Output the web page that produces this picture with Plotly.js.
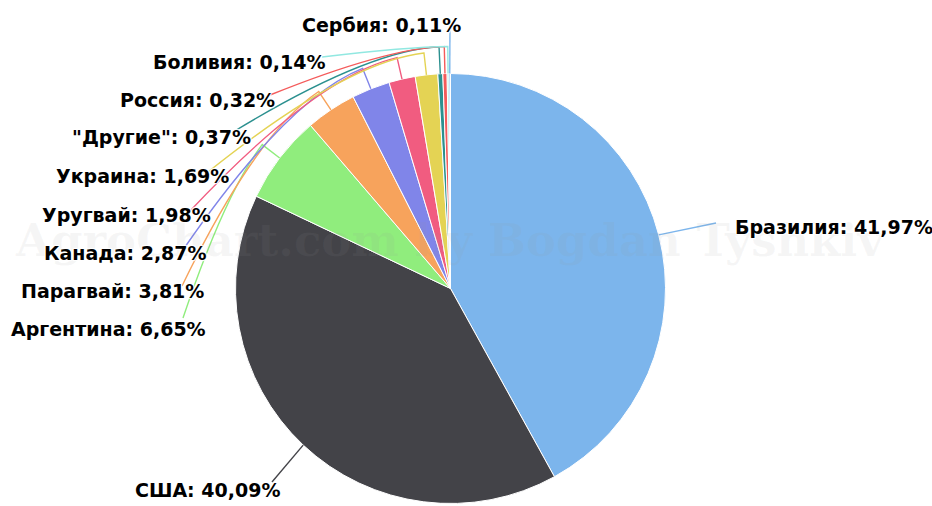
<!DOCTYPE html>
<html>
<head>
<meta charset="utf-8">
<script src="https://cdn.plot.ly/plotly-3.0.1.min.js"></script>
<style>html,body{margin:0;padding:0;background:#fff}#chart{width:932px;height:506px}</style>
</head>
<body>
<div id="chart"></div>
<script>
// ---- data ----
const countries = ["Бразилия", "США", "Аргентина", "Парагвай", "Канада", "Уругвай", "Украина", "\"Другие\"", "Россия", "Боливия", "Сербия"];
const shares = [41.97, 40.09, 6.65, 3.81, 2.87, 1.98, 1.69, 0.37, 0.32, 0.14, 0.11];
const sliceColors = ["#7cb5ec", "#434348", "#90ed7d", "#f7a35c", "#8085e9", "#f15c80", "#e4d354", "#2b908f", "#f45b5b", "#91e8e1", "#7cb5ec"];

// ---- layout positions for labels (pixels) ----
// [text x, text y(center), xanchor, connector anchor x, connector anchor y, connector style]
const labelPos = [
  [733, 227, "left", 716, 223, "straight"],
  [133, 490, "left", 272, 482, "straight"],
  [208, 329, "right", 183, 318, "curve"],
  [206, 291, "right", 182, 286, "curve"],
  [209, 253, "right", 185, 247, "curve"],
  [213, 215, "right", 190, 211, "curve"],
  [231, 176, "right", 208, 172, "curve"],
  [253, 137, "right", 233, 132, "curve"],
  [277, 100, "right", 270, 95, "curve"],
  [327, 62, "right", 322, 57, "curve"],
  [300, 25, "left", 450, 20, "vertical"]
];

const W = 932, H = 506, CX = 450.5, CY = 288.5, R = 215;
const px = x => x / W;
const py = y => (H - y) / H;
const fmt = v => v.toFixed(2).replace(".", ",");

function pt(theta, r) {
  const a = theta * Math.PI / 180;
  return [CX + r * Math.sin(a), CY - r * Math.cos(a)];
}

const total = shares.reduce((a, b) => a + b, 0);
let cum = 0;
const shapes = [];
const annotations = [];

shares.forEach((v, i) => {
  const mid = (cum + v / 2) / total * 360;
  cum += v;
  const [tx, ty, xa, ax, ay, style] = labelPos[i];
  const edge = pt(mid, R);
  let path;
  if (style === "straight" || style === "vertical") {
    path = `M ${px(ax)} ${py(ay)} L ${px(edge[0])} ${py(edge[1])}`;
  } else {
    const off = mid > 355 ? 27 : 22;
    const bp = pt(mid, R + off);
    const a = mid * Math.PI / 180;
    const tan = [-Math.cos(a), -Math.sin(a)];
    const d = Math.hypot(ax - bp[0], ay - bp[1]);
    const k = 0.32 * d;
    const c = [bp[0] + k * tan[0], bp[1] + k * tan[1]];
    path = `M ${px(ax)} ${py(ay)} Q ${px(c[0])} ${py(c[1])} ${px(bp[0])} ${py(bp[1])} L ${px(edge[0])} ${py(edge[1])}`;
  }
  shapes.push({
    type: "path", xref: "paper", yref: "paper", path: path,
    line: { color: sliceColors[i], width: 1.4 }, layer: "above"
  });
  annotations.push({
    xref: "paper", yref: "paper", x: px(tx), y: py(ty),
    xanchor: xa, yanchor: "middle", showarrow: false,
    text: `${countries[i]}: ${fmt(v)}%`,
    font: {
      family: "DejaVu Sans", size: 19, weight: "bold", color: "#000000",
      shadow: "1px 1px 1px #fff, -1px -1px 1px #fff, 1px -1px 1px #fff, -1px 1px 1px #fff"
    }
  });
});

// watermark
annotations.unshift({
  xref: "paper", yref: "paper", x: px(450), y: py(240),
  xanchor: "center", yanchor: "middle", showarrow: false,
  text: "<b>AgroChart.com by Bogdan Tyshkiv</b>",
  font: { family: "DejaVu Serif", size: 45, weight: "bold", color: "rgba(150,150,150,0.09)" }
});

const trace = {
  type: "pie",
  labels: countries,
  values: shares,
  sort: false,
  direction: "clockwise",
  rotation: 0,
  textinfo: "none",
  hoverinfo: "none",
  marker: { colors: sliceColors, line: { color: "#ffffff", width: 1 } },
  domain: { x: [px(CX - R), px(CX + R)], y: [py(CY + R), py(CY - R)] },
  showlegend: false
};

const layout = {
  width: W, height: H,
  margin: { l: 0, r: 0, t: 0, b: 0 },
  paper_bgcolor: "#ffffff",
  showlegend: false,
  shapes: shapes,
  annotations: annotations
};

Plotly.newPlot("chart", [trace], layout, { staticPlot: true, displayModeBar: false });
</script>
</body>
</html>
